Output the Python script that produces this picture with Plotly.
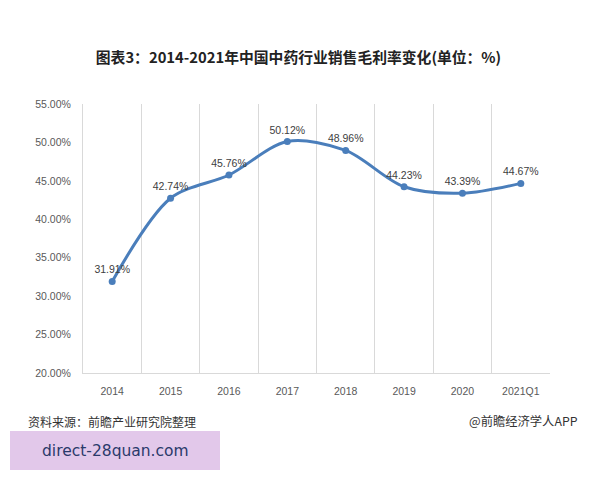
import plotly.graph_objects as go

categories = ["2014", "2015", "2016", "2017", "2018", "2019", "2020", "2021Q1"]
margin_values = [31.91, 42.74, 45.76, 50.12, 48.96, 44.23, 43.39, 44.67]
y_ticks = [20, 25, 30, 35, 40, 45, 50, 55]

L, R, T, B = 83, 50, 104, 107
PW, PH = 600 - L - R, 480 - T - B


def px(x):
    return (x - L) / PW


def py(y):
    return (480 - B - y) / PH


xs = list(range(len(categories)))
fig = go.Figure()
fig.add_trace(go.Scatter(
    x=xs, y=margin_values,
    mode="lines+markers+text",
    line=dict(color="#4a7ebb", width=3, shape="spline", smoothing=0.9),
    marker=dict(color="#4a7ebb", size=7),
    text=[f"{v:.2f}%" for v in margin_values],
    textposition="top center",
    textfont=dict(family="Liberation Sans, Arial", size=10.5, color="#404040"),
    cliponaxis=False,
    showlegend=False,
))

fig.update_layout(
    width=600, height=480,
    margin=dict(l=L, r=R, t=T, b=B),
    paper_bgcolor="white", plot_bgcolor="white",
    title=dict(text="<b>图表3：2014-2021年中国中药行业销售毛利率变化(单位：%)</b>",
               x=298.5 / 600, xanchor="center", y=1 - 58 / 480, yanchor="middle",
               font=dict(family="Noto Sans CJK SC", size=14.8, color="#222222")),
    xaxis=dict(
        range=[-0.5, 7.5], tickmode="array", tickvals=xs, ticktext=categories,
        showgrid=False, zeroline=False,
        showline=True, linecolor="#d9d9d9", linewidth=1,
        tickfont=dict(family="Liberation Sans, Arial", size=10.5, color="#595959"),
        ticks="", ticklabelstandoff=8,
        minor=dict(tickmode="linear", tick0=-0.5, dtick=1, showgrid=True,
                   gridcolor="#d9d9d9", gridwidth=1),
    ),
    yaxis=dict(
        range=[20, 55], tickmode="array", tickvals=y_ticks,
        ticktext=[f"{v:.2f}%" for v in y_ticks],
        showgrid=False, zeroline=False,
        showline=True, linecolor="#d9d9d9", linewidth=1,
        tickfont=dict(family="Liberation Sans, Arial", size=10.5, color="#595959"),
        ticks="", ticklabelstandoff=9,
    ),
    annotations=[
        dict(text="资料来源：前瞻产业研究院整理", xref="paper", yref="paper",
             x=px(26), y=py(421), xanchor="left", yanchor="middle",
             showarrow=False, font=dict(family="Noto Sans CJK SC", size=12, color="#333333")),
        dict(text="@前瞻经济学人APP", xref="paper", yref="paper",
             x=px(580), y=py(421), xanchor="right", yanchor="middle",
             showarrow=False, font=dict(family="Noto Sans CJK SC", size=12.3, color="#333333")),
        dict(text="direct-28quan.com", xref="paper", yref="paper",
             x=px(115), y=py(451), xanchor="center", yanchor="middle",
             showarrow=False, font=dict(family="DejaVu Sans", size=15.5, color="#2a3a6a")),
    ],
    shapes=[
        dict(type="rect", xref="paper", yref="paper",
             x0=px(10), x1=px(220), y0=py(470), y1=py(431),
             fillcolor="#e2c8ea", line=dict(width=0), layer="below"),
    ],
)

fig.write_html("out.html")
